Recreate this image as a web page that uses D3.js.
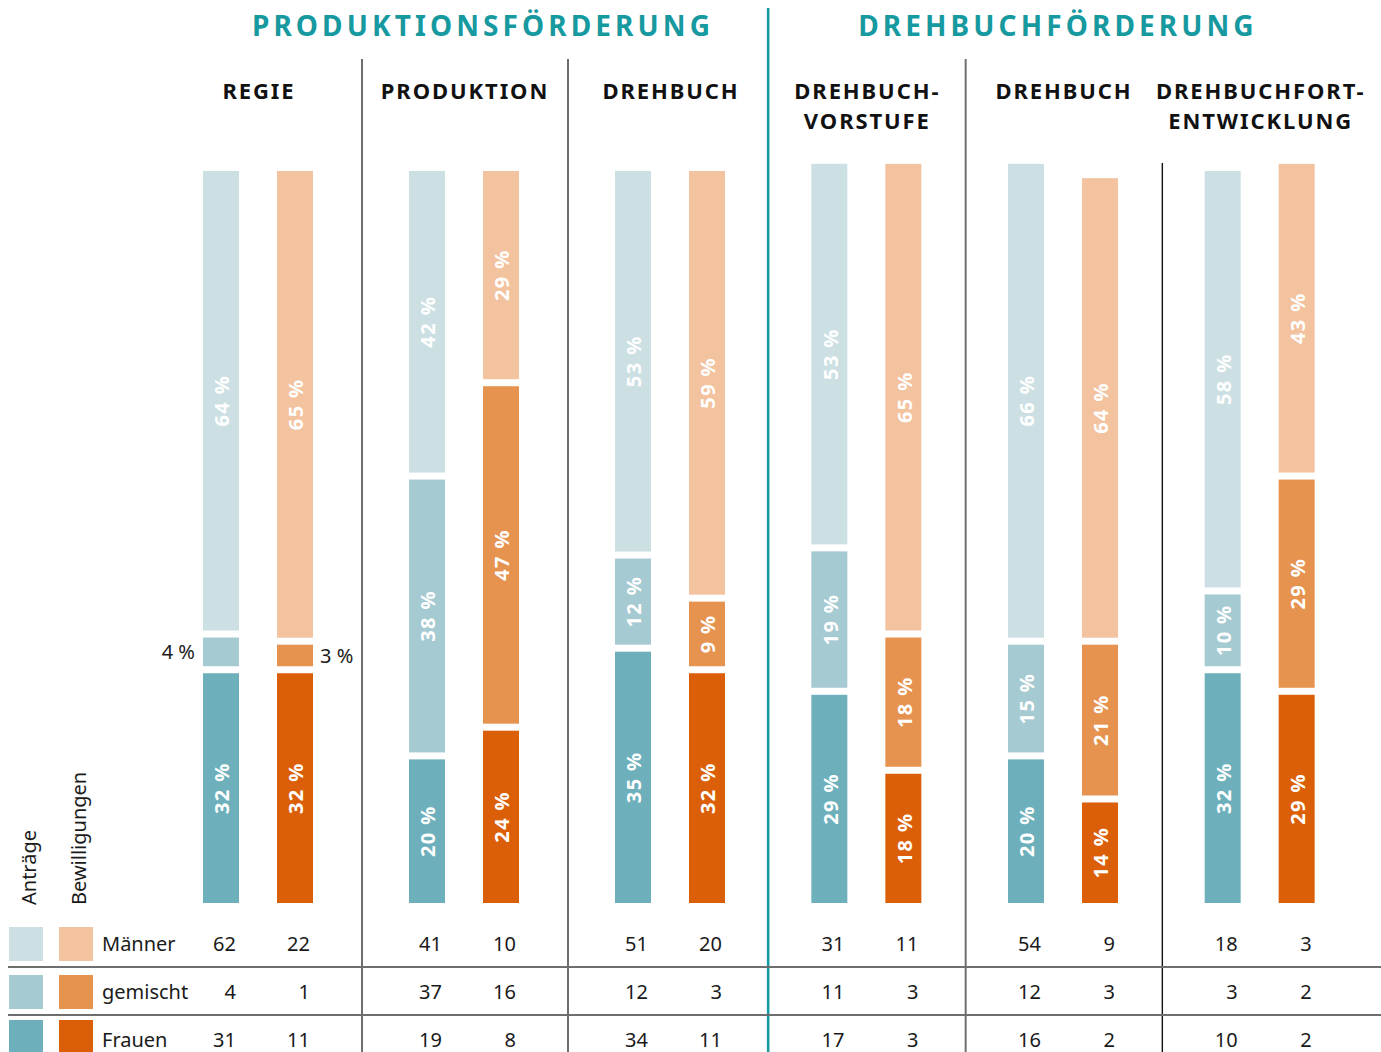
<!DOCTYPE html>
<html>
<head>
<meta charset="utf-8">
<script src="https://cdn.jsdelivr.net/npm/d3@7"></script>
<style>
  html, body { margin: 0; padding: 0; background: #fff; }
  svg { display: block; }
</style>
</head>
<body>
<svg id="chart" width="1381" height="1052"></svg>
<script>
// ---------- DATA ----------
const sections = ["PRODUKTIONSFÖRDERUNG", "DREHBUCHFÖRDERUNG"];
const groupIds = ["regie", "produktion", "drehbuchP", "vorstufe", "drehbuchD", "fortentwicklung"];
const groupTitles = [["REGIE"], ["PRODUKTION"], ["DREHBUCH"], ["DREHBUCH-", "VORSTUFE"], ["DREHBUCH"], ["DREHBUCHFORT-", "ENTWICKLUNG"]];
const groupSection = [0, 0, 0, 1, 1, 1];
const categories = ["Männer", "gemischt", "Frauen"];

// percentages (as printed)
const antraegeMaenner = [64, 42, 53, 53, 66, 58];
const antraegeGemischt = [4, 38, 12, 19, 15, 10];
const antraegeFrauen = [32, 20, 35, 29, 20, 32];
const bewilligungenMaenner = [65, 29, 59, 65, 64, 43];
const bewilligungenGemischt = [3, 47, 9, 18, 21, 29];
const bewilligungenFrauen = [32, 24, 32, 18, 14, 29];

// counts (table)
const antraegeAnzahlMaenner = [62, 41, 51, 31, 54, 18];
const antraegeAnzahlGemischt = [4, 37, 12, 11, 12, 3];
const antraegeAnzahlFrauen = [31, 19, 34, 17, 16, 10];
const bewilligungenAnzahlMaenner = [22, 10, 20, 11, 9, 3];
const bewilligungenAnzahlGemischt = [1, 16, 3, 3, 3, 2];
const bewilligungenAnzahlFrauen = [11, 8, 11, 3, 2, 2];

const seriesNames = ["Anträge", "Bewilligungen"];

// ---------- STYLE ----------
const colors = {
  "Anträge": { "Männer": "#cce0e4", "gemischt": "#a6cad2", "Frauen": "#6db0bc" },
  "Bewilligungen": { "Männer": "#f3c29e", "gemischt": "#e69350", "Frauen": "#db5f08" }
};
const teal = "#16999f";
const fontMain = "'Noto Sans', 'Open Sans', sans-serif";

const svg = d3.select("#chart");
const W = 1381, H = 1052;

// ---------- SCALES ----------
const sec0 = groupIds.filter((g, i) => groupSection[i] === 0);
const sec1 = groupIds.filter((g, i) => groupSection[i] === 1);
const xSec0 = d3.scaleBand().domain(sec0).range([155, 773]);
const xSec1 = d3.scaleBand().domain(sec1).range([768, 1358]);
const xGroup = id => (sec0.includes(id) ? xSec0 : xSec1);
const groupCenter = id => xGroup(id)(id) + xGroup(id).bandwidth() / 2;
const xInner = d3.scaleBand().domain(seriesNames).range([-55, 55]).paddingInner(0.5135).paddingOuter(0);
const barW = xInner.bandwidth();

const baseY = 903;
const gap = 7;
const hScale = d3.scaleLinear().domain([0, 100]).range([0, 718]);

// ---------- BUILD SEGMENTS ----------
const pct = {
  "Anträge": { "Männer": antraegeMaenner, "gemischt": antraegeGemischt, "Frauen": antraegeFrauen },
  "Bewilligungen": { "Männer": bewilligungenMaenner, "gemischt": bewilligungenGemischt, "Frauen": bewilligungenFrauen }
};
const counts = {
  "Anträge": { "Männer": antraegeAnzahlMaenner, "gemischt": antraegeAnzahlGemischt, "Frauen": antraegeAnzahlFrauen },
  "Bewilligungen": { "Männer": bewilligungenAnzahlMaenner, "gemischt": bewilligungenAnzahlGemischt, "Frauen": bewilligungenAnzahlFrauen }
};

const segments = [];
groupIds.forEach((gid, gi) => {
  seriesNames.forEach(s => {
    let y = baseY;
    ["Frauen", "gemischt", "Männer"].forEach((cat) => {
      const v = pct[s][cat][gi];
      const h = hScale(v);
      segments.push({ gid, gi, series: s, cat, v, y0: y - h, y1: y });
      y = y - h - gap;
    });
  });
});

// ---------- DIVIDERS ----------
const dividerX = [];
for (let i = 0; i < groupIds.length - 1; i++) {
  dividerX.push({ x: (groupCenter(groupIds[i]) + groupCenter(groupIds[i + 1])) / 2, i });
}
dividerX.forEach(d => {
  const isSection = groupSection[d.i] !== groupSection[d.i + 1];
  const isLast = d.i === groupIds.length - 2;
  svg.append("line")
    .attr("x1", d.x + (isSection ? 0 : 1)).attr("x2", d.x + (isSection ? 0 : 1))
    .attr("y1", isSection ? 8 : (isLast ? 163 : 59))
    .attr("y2", H)
    .attr("stroke", isSection ? teal : (isLast ? "#111" : "#6e6e6e"))
    .attr("stroke-width", isSection ? 2.6 : (isLast ? 1.4 : 2));
});

// table horizontal lines
const rowY = d3.scaleBand().domain(categories).range([920, 1064]);
[categories[1], categories[2]].forEach(c => {
  svg.append("line")
    .attr("x1", 8).attr("x2", W)
    .attr("y1", rowY(c) - 1).attr("y2", rowY(c) - 1)
    .attr("stroke", "#6e6e6e").attr("stroke-width", 2);
});

// ---------- SECTION TITLES ----------
const sectionShift = [17, -7];
sections.forEach((s, si) => {
  const ids = si === 0 ? sec0 : sec1;
  const cx = (groupCenter(ids[0]) + groupCenter(ids[ids.length - 1])) / 2 + sectionShift[si];
  svg.append("text")
    .attr("x", cx + 2).attr("y", 36)
    .attr("text-anchor", "middle")
    .attr("font-family", fontMain).attr("font-weight", 700)
    .attr("font-size", 28).attr("letter-spacing", 4.1)
    .attr("fill", teal)
    .text(s);
});

// ---------- GROUP TITLES ----------
groupIds.forEach((gid, gi) => {
  const t = svg.append("text")
    .attr("x", groupCenter(gid)).attr("y", 99)
    .attr("text-anchor", "middle")
    .attr("font-family", fontMain).attr("font-weight", 700)
    .attr("font-size", 22).attr("letter-spacing", 1.9)
    .attr("fill", "#111");
  groupTitles[gi].forEach((line, li) => {
    t.append("tspan").attr("x", groupCenter(gid) + 1).attr("dy", li === 0 ? 0 : 30).text(line);
  });
});

// ---------- BARS ----------
const barX = d => groupCenter(d.gid) + xInner(d.series);
svg.append("g").selectAll("rect")
  .data(segments)
  .join("rect")
  .attr("x", barX)
  .attr("y", d => d.y0)
  .attr("width", barW)
  .attr("height", d => d.y1 - d.y0)
  .attr("fill", d => colors[d.series][d.cat]);

// inside labels
const inside = segments.filter(d => d.y1 - d.y0 >= 45);
svg.append("g").selectAll("text")
  .data(inside)
  .join("text")
  .attr("transform", d => `translate(${barX(d) + barW / 2 + 1},${(d.y0 + d.y1) / 2}) rotate(-90)`)
  .attr("text-anchor", "middle")
  .attr("dy", "0.36em")
  .attr("font-family", fontMain).attr("font-weight", 700)
  .attr("font-size", 20).attr("letter-spacing", 1.4)
  .attr("fill", "#fff")
  .text(d => `${d.v} %`);

// outside labels for small segments
const outside = segments.filter(d => d.y1 - d.y0 < 45);
svg.append("g").selectAll("text")
  .data(outside)
  .join("text")
  .attr("x", d => d.series === "Anträge" ? barX(d) - 8 : barX(d) + barW + 7)
  .attr("y", d => (d.y0 + d.y1) / 2)
  .attr("dy", "0.36em")
  .attr("text-anchor", d => d.series === "Anträge" ? "end" : "start")
  .attr("font-family", fontMain).attr("font-size", 20)
  .attr("fill", "#1a1a1a")
  .text(d => `${d.v} %`);

// ---------- LEGEND / TABLE ----------
const legendX = d3.scaleBand().domain(seriesNames).range([9, 93]).paddingInner(0.32);
seriesNames.forEach(s => {
  svg.append("text")
    .attr("transform", `translate(${legendX(s) + legendX.bandwidth() / 2 + 10},905) rotate(-90)`)
    .attr("text-anchor", "start")
    .attr("font-family", fontMain).attr("font-size", 20)
    .attr("fill", "#1a1a1a")
    .text(s);
});

categories.forEach((c, ci) => {
  const cy = rowY(c) + rowY.bandwidth() / 2 - (ci === 2 ? 3 : 0);
  seriesNames.forEach(s => {
    svg.append("rect")
      .attr("x", legendX(s)).attr("y", cy - 17)
      .attr("width", legendX.bandwidth()).attr("height", 34)
      .attr("fill", colors[s][c]);
  });
  const ty = rowY(c) + rowY.bandwidth() / 2;
  svg.append("text")
    .attr("x", 102).attr("y", ty).attr("dy", "0.36em")
    .attr("font-family", fontMain).attr("font-size", 20)
    .attr("fill", "#1a1a1a")
    .text(c);
  groupIds.forEach((gid, gi) => {
    seriesNames.forEach(s => {
      svg.append("text")
        .attr("x", groupCenter(gid) + xInner(s) + barW / 2 + 15)
        .attr("y", ty).attr("dy", "0.36em")
        .attr("text-anchor", "end")
        .attr("font-family", fontMain).attr("font-size", 20)
        .attr("fill", "#1a1a1a")
        .text(counts[s][c][gi]);
    });
  });
});
</script>
</body>
</html>
